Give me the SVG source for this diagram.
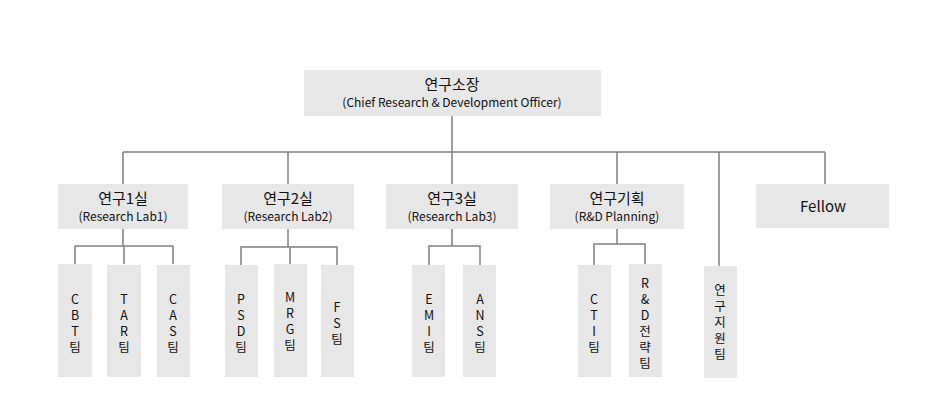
<svg xmlns="http://www.w3.org/2000/svg" width="939" height="407" viewBox="0 0 939 407">
<style>
rect{fill:#e7e7e7}
text{font-family:"Noto Sans CJK KR","Noto Sans",sans-serif;fill:#111;text-anchor:middle}
.t{font-size:15px}.s{font-size:12px}.v{font-size:12.5px}
#connectors path{stroke:#7f7f7f;stroke-width:1.5;fill:none}
</style>
<rect width="939" height="407" style="fill:#fff"/>
<g id="connectors">
<path d="M452 116V152M123 152H825M123 152V184M288 152V184M452 152V184M617 152V184M825 152V184M719 152V266"/>
<path d="M123 229V246M75 264V246H173V264M124 246V264"/>
<path d="M288 229V247M241 265V247H337V265M290 247V265"/>
<path d="M452 229V246M429 265V246H480V265"/>
<path d="M617 229V244M594 265V244H645V265"/>
</g>
<g id="top"><rect x="304" y="70" width="297" height="46"/><text class="t" x="452" y="90">연구소장</text><text class="s" x="452" y="107">(Chief Research &amp; Development Officer)</text></g>
<g id="lab1"><rect x="58" y="184" width="130" height="45"/><text class="t" x="123" y="204">연구1실</text><text class="s" x="123" y="221">(Research Lab1)</text></g>
<g id="lab2"><rect x="222" y="184" width="132" height="45"/><text class="t" x="288" y="204">연구2실</text><text class="s" x="288" y="221">(Research Lab2)</text></g>
<g id="lab3"><rect x="386" y="184" width="132" height="45"/><text class="t" x="452" y="204">연구3실</text><text class="s" x="452" y="221">(Research Lab3)</text></g>
<g id="planning"><rect x="550" y="184" width="134" height="45"/><text class="t" x="617" y="204">연구기획</text><text class="s" x="617" y="221">(R&amp;D Planning)</text></g>
<g id="fellow"><rect x="756" y="184" width="133" height="44"/><text class="t" x="823" y="212">Fellow</text></g>
<g id="cbt"><rect x="58" y="264" width="34" height="113"/><text class="v" x="75"><tspan x="75" y="304">C</tspan><tspan x="75" y="320">B</tspan><tspan x="75" y="336">T</tspan><tspan x="75" y="352">팀</tspan></text></g>
<g id="tar"><rect x="107" y="265" width="34" height="112"/><text class="v"><tspan x="124" y="304">T</tspan><tspan x="124" y="320">A</tspan><tspan x="124" y="336">R</tspan><tspan x="124" y="352">팀</tspan></text></g>
<g id="cas"><rect x="157" y="265" width="33" height="112"/><text class="v"><tspan x="173" y="304">C</tspan><tspan x="173" y="320">A</tspan><tspan x="173" y="336">S</tspan><tspan x="173" y="352">팀</tspan></text></g>
<g id="psd"><rect x="225" y="265" width="33" height="112"/><text class="v"><tspan x="241" y="304">P</tspan><tspan x="241" y="320">S</tspan><tspan x="241" y="336">D</tspan><tspan x="241" y="352">팀</tspan></text></g>
<g id="mrg"><rect x="274" y="264" width="33" height="113"/><text class="v"><tspan x="290" y="302">M</tspan><tspan x="290" y="318">R</tspan><tspan x="290" y="334">G</tspan><tspan x="290" y="350">팀</tspan></text></g>
<g id="fs"><rect x="321" y="265" width="33" height="112"/><text class="v"><tspan x="337" y="312">F</tspan><tspan x="337" y="328">S</tspan><tspan x="337" y="344">팀</tspan></text></g>
<g id="emi"><rect x="412" y="265" width="33" height="112"/><text class="v"><tspan x="429" y="304">E</tspan><tspan x="429" y="320">M</tspan><tspan x="429" y="336">I</tspan><tspan x="429" y="352">팀</tspan></text></g>
<g id="ans"><rect x="463" y="265" width="33" height="112"/><text class="v"><tspan x="480" y="304">A</tspan><tspan x="480" y="320">N</tspan><tspan x="480" y="336">S</tspan><tspan x="480" y="352">팀</tspan></text></g>
<g id="cti"><rect x="578" y="265" width="33" height="112"/><text class="v"><tspan x="594" y="304">C</tspan><tspan x="594" y="320">T</tspan><tspan x="594" y="336">I</tspan><tspan x="594" y="352">팀</tspan></text></g>
<g id="rnd"><rect x="629" y="264" width="33" height="113"/><text class="v"><tspan x="645" y="288">R</tspan><tspan x="645" y="304">&amp;</tspan><tspan x="645" y="320">D</tspan><tspan x="645" y="336">전</tspan><tspan x="645" y="352">략</tspan><tspan x="645" y="368">팀</tspan></text></g>
<g id="support"><rect x="704" y="266" width="33" height="112"/><text class="v"><tspan x="720" y="295">연</tspan><tspan x="720" y="311">구</tspan><tspan x="720" y="327">지</tspan><tspan x="720" y="343">원</tspan><tspan x="720" y="359">팀</tspan></text></g>
</svg>
